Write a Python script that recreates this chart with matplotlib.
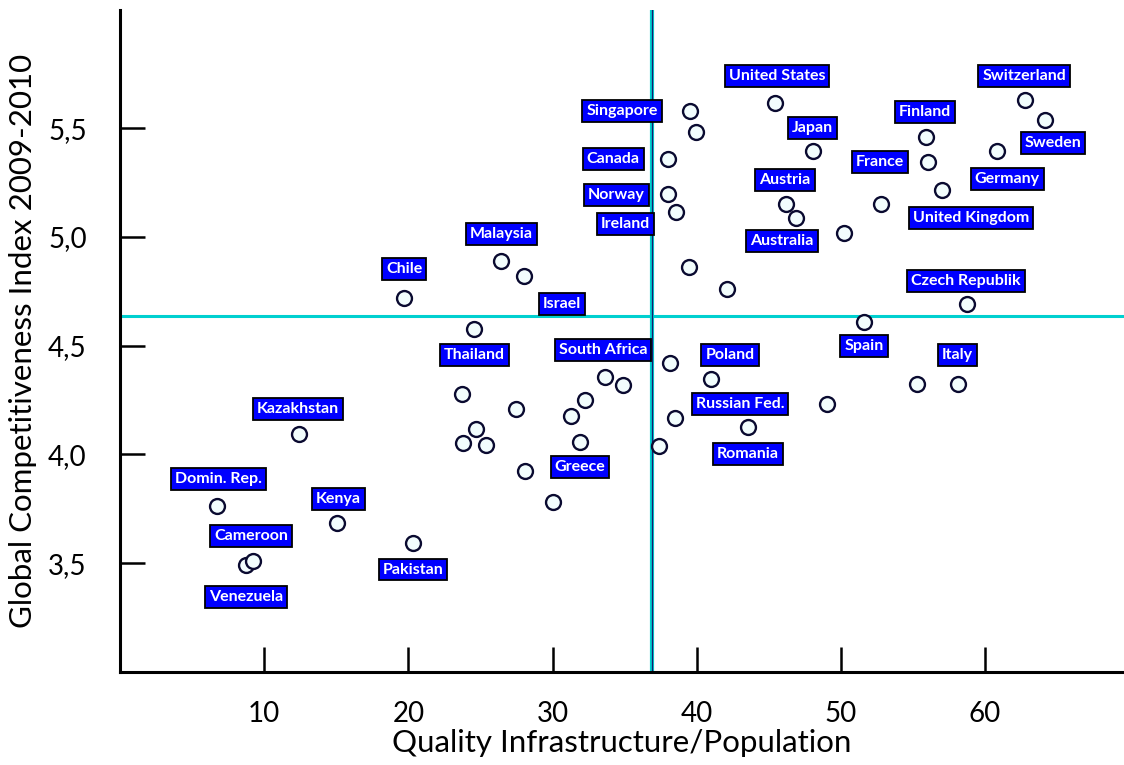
import matplotlib.pyplot as plt

# Quality infrastructure / population (x) vs Global Competitiveness Index 2009-2010 (y)
quality_infra = [6.76, 8.73, 9.22, 12.38, 15.08, 20.31, 19.73, 23.71, 24.70, 23.78,
                 25.37, 24.58, 26.44, 28.01, 27.45, 28.10, 30.04, 31.27, 32.28, 31.91,
                 33.65, 34.88, 37.41, 38.15, 38.52, 40.99, 43.59, 49.06, 55.31, 58.11,
                 51.63, 58.73, 39.49, 42.09, 38.00, 38.00, 38.57, 39.55, 39.94, 45.42,
                 48.07, 46.20, 46.91, 50.24, 52.79, 55.89, 56.05, 57.00, 60.85, 62.75,
                 64.14]
gci = [3.765, 3.492, 3.512, 4.095, 3.684, 3.593, 4.719, 4.276, 4.115, 4.054,
       4.044, 4.578, 4.889, 4.820, 4.207, 3.923, 3.783, 4.175, 4.248, 4.056,
       4.355, 4.317, 4.037, 4.420, 4.167, 4.345, 4.125, 4.234, 4.325, 4.325,
       4.609, 4.690, 4.862, 4.760, 5.356, 5.196, 5.115, 5.578, 5.483, 5.615,
       5.394, 5.153, 5.087, 5.020, 5.153, 5.457, 5.342, 5.215, 5.396, 5.629,
       5.537]

# country labels and where they sit on the chart
label_names = ['United States', 'Switzerland', 'Finland', 'Japan', 'Sweden',
               'Singapore', 'Canada', 'France', 'Austria', 'Germany', 'Norway',
               'United Kingdom', 'Ireland', 'Malaysia', 'Australia', 'Chile',
               'Czech Republik', 'Israel', 'South Africa', 'Thailand', 'Spain',
               'Poland', 'Italy', 'Kazakhstan', 'Russian Fed.', 'Romania',
               'Greece', 'Domin. Rep.', 'Kenya', 'Cameroon', 'Pakistan', 'Venezuela']
label_x = [45.57, 62.71, 55.84, 48.01, 64.72, 34.83, 34.20, 52.72, 46.13, 61.53,
           34.41, 59.03, 35.04, 26.44, 45.92, 19.71, 58.68, 30.67, 33.51, 24.56,
           51.61, 42.31, 58.06, 12.36, 43.00, 43.56, 31.91, 6.81, 15.13, 9.10,
           20.33, 8.75]
label_y = [5.739, 5.739, 5.574, 5.500, 5.431, 5.578, 5.357, 5.343, 5.261, 5.265,
           5.192, 5.086, 5.058, 5.012, 4.980, 4.851, 4.796, 4.690, 4.478, 4.455,
           4.497, 4.455, 4.455, 4.211, 4.234, 4.000, 3.940, 3.885, 3.797, 3.627,
           3.471, 3.346]

# crosshair values
cross_x = 36.9
cross_y = 4.636

x_ticks = [10, 20, 30, 40, 50, 60]
y_ticks = [3.5, 4.0, 4.5, 5.0, 5.5]
y_tick_labels = ['3,5', '4,0', '4,5', '5,0', '5,5']

axis_font = ['Lato', 'DejaVu Sans']
label_font = ['Lato', 'DejaVu Sans']

fig = plt.figure(figsize=(11.24, 7.65), dpi=100)
ax = fig.add_axes([0.1068, 0.1216, 0.8932, 0.8654])

ax.set_xlim(0, 69.64)
ax.set_ylim(3.0, 6.043)

# crosshair
ax.axhline(cross_y, color='#00d0d0', lw=2.2, zorder=1)
ax.axvline(cross_x, color='#00d0d0', lw=3, zorder=1)
ax.axvline(cross_x, color='#1a1a6e', lw=0.9, zorder=1.1)

ax.scatter(quality_infra, gci, s=115, facecolor='#f2fdfd', edgecolor='#0a0a30',
           linewidth=1.7, zorder=3)

for name, lx, ly in zip(label_names, label_x, label_y):
    ax.text(lx, ly, name, ha='center', va='center', color='white',
            fontsize=11.5, fontweight='bold', family=label_font, zorder=4,
            bbox=dict(boxstyle='square,pad=0.25', facecolor='#0000ff',
                      edgecolor='black', linewidth=1.3))

for side in ['top', 'right']:
    ax.spines[side].set_visible(False)
for side in ['left', 'bottom']:
    ax.spines[side].set_linewidth(2.2)
    ax.spines[side].set_color('black')

ax.set_xticks(x_ticks)
ax.set_xticklabels([str(t) for t in x_ticks], family=axis_font, fontsize=20)
ax.set_yticks(y_ticks)
ax.set_yticklabels(y_tick_labels, family=axis_font, fontsize=20)
ax.tick_params(axis='both', direction='in', length=18, width=1.8, colors='black')
ax.tick_params(axis='x', pad=21)
ax.tick_params(axis='y', pad=24)

ax.set_xlabel('Quality Infrastructure/Population', family=axis_font, fontsize=22.5,
              labelpad=1)
ax.set_ylabel('Global Competitiveness Index 2009-2010', family=axis_font, fontsize=22.5,
              labelpad=8)

fig.savefig('out.png', dpi=100)
